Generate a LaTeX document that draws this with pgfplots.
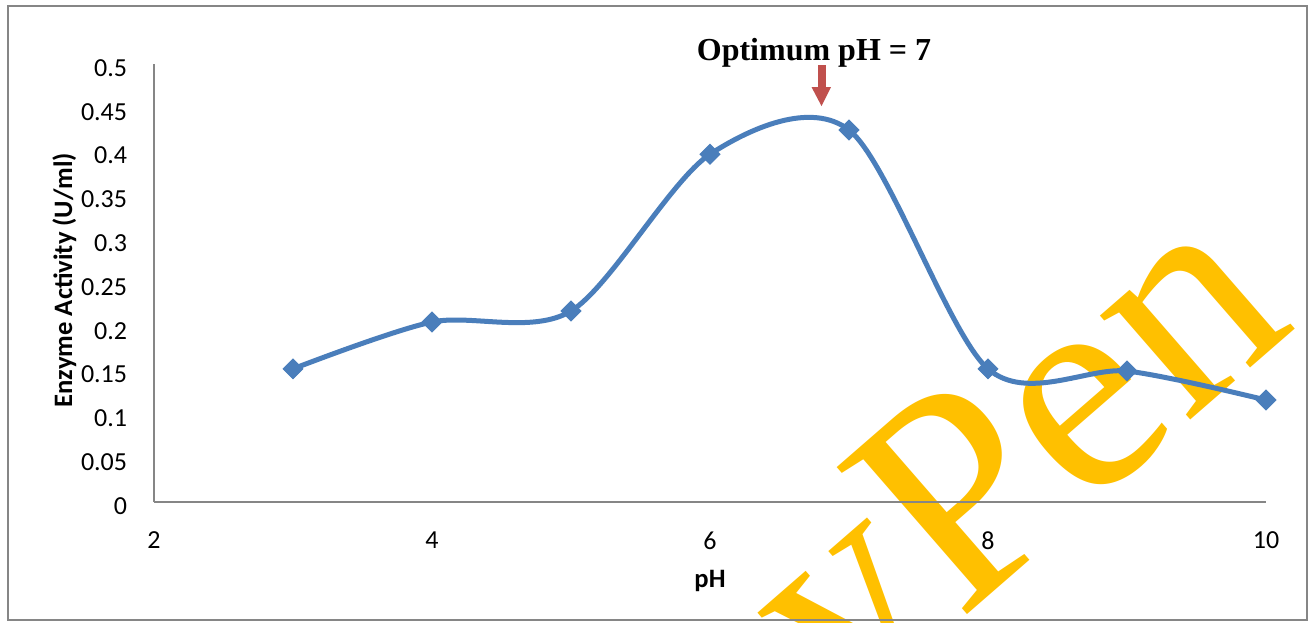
\documentclass[border=0pt]{standalone}
\usepackage{pgfplots}
\pgfplotsset{compat=1.18}
\usepackage{fontspec}
\setmainfont{Carlito}
\newfontfamily\timesfont{Liberation Serif}
\definecolor{lineblue}{HTML}{4A7EBB}
\definecolor{axgray}{HTML}{868686}
\definecolor{arrowred}{HTML}{C0504D}
\definecolor{wmyellow}{HTML}{FFC000}
\begin{document}
\begin{tikzpicture}[x=0.5pt,y=-0.5pt]
\useasboundingbox (0,0) rectangle (1312,622);
\fill[white] (0,0) rectangle (1312,622);
\begin{scope}
\clip (0,0) rectangle (1312,622);
\node[rotate=41, anchor=base east, inner sep=0pt, text=wmyellow,
      font=\timesfont\fontsize{150}{150}\selectfont] at (1299,326) {yPen};
\end{scope}
\draw[color=axgray, line width=1pt] (8,6) rectangle (1307,620);
\begin{axis}[
  at={(77pt,-251pt)}, anchor=south west,
  scale only axis, width=556pt, height=219pt,
  xmin=2, xmax=10, ymin=0, ymax=0.5,
  axis x line*=bottom, axis y line*=left,
  axis line style={axgray, line width=0.9pt},
  major tick length=0pt,
  xtick={2,4,6,8,10},
  xticklabels={2,4,6,8,10},
  ytick={0,0.05,0.1,0.15,0.2,0.25,0.3,0.35,0.4,0.45,0.5},
  yticklabels={0,0.05,0.1,0.15,0.2,0.25,0.3,0.35,0.4,0.45,0.5},
  /pgf/number format/assume math mode=true,
  tick label style={font=\fontsize{13}{15}\selectfont},
  yticklabel style={anchor=east, inner sep=0pt, xshift=-13.25pt, yshift=-2pt},
  xticklabel style={anchor=center, inner sep=0pt, yshift=-19.25pt},
  clip=false,
  xlabel={pH},
  ylabel={Enzyme Activity (U/ml)},
  label style={font=\bfseries\fontsize{13.3}{16}\selectfont, inner sep=0pt},
  xlabel style={at={(axis description cs:0.5,-0.1963)}, anchor=base},
  ylabel style={at={(axis description cs:-0.0737,0.5068)}, anchor=base},
]
\addplot[color=lineblue, line width=2.5pt, smooth,
  mark=square*, mark size=3.5pt,
  mark options={rotate=45, fill=lineblue, draw=lineblue, line width=0.5pt}]
  coordinates {(3,0.152)(4,0.2055)(5,0.218)(6,0.397)(7,0.4247)(8,0.152)(9,0.1495)(10,0.1164)};
\end{axis}
\fill[arrowred] (818,65) rectangle (826,88);
\fill[arrowred] (811.5,87) -- (831,87) -- (821.5,106) -- cycle;
\node[anchor=base, inner sep=0pt, font=\timesfont\bfseries\fontsize{16}{19}\selectfont] at (814,60) {Optimum pH = 7};
\end{tikzpicture}
\end{document}
